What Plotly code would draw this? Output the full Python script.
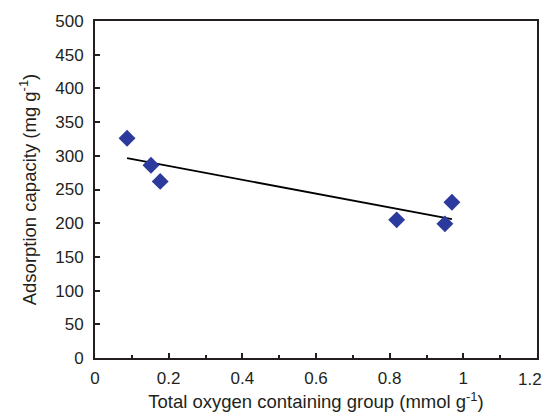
import numpy as np
import plotly.graph_objects as go

oxygen_groups = [0.087, 0.152, 0.177, 0.819, 0.950, 0.969]
adsorption_capacity = [326, 286, 262, 205, 199, 231]
x_ticks = [0, 0.2, 0.4, 0.6, 0.8, 1, 1.2]
x_tick_labels = ["0", "0.2", "0.4", "0.6", "0.8", "1", "1.2"]

slope, intercept = np.polyfit(oxygen_groups, adsorption_capacity, 1)
x_fit = [min(oxygen_groups), max(oxygen_groups)]
y_fit = [slope * v + intercept for v in x_fit]

fig = go.Figure()
fig.add_trace(go.Scatter(x=x_fit, y=y_fit, mode="lines",
                         line=dict(color="black", width=1.8), showlegend=False))
fig.add_trace(go.Scatter(x=oxygen_groups, y=adsorption_capacity, mode="markers",
                         marker=dict(symbol="diamond", size=13, color="#2B3A9C"),
                         showlegend=False))

FAM = "Liberation Sans, Arial, sans-serif"
INK = "#231F20"
tick_font = dict(family=FAM, size=17, color=INK)
title_font = dict(family=FAM, size=18.5, color=INK)

# last tick label drawn as an annotation, nudged left so it stays inside the page
shown_labels = x_tick_labels[:-1] + [""]
fig.add_annotation(x=x_ticks[-1], y=0, xref="x", yref="paper", text=x_tick_labels[-1],
                   showarrow=False, xanchor="right", yanchor="top", xshift=7, yshift=-10,
                   font=tick_font)

fig.update_layout(
    width=546, height=413,
    margin=dict(l=95, r=9, t=21, b=55),
    plot_bgcolor="white", paper_bgcolor="white",
    font=tick_font,
    xaxis=dict(range=[0, 1.2], tickvals=x_ticks, ticktext=shown_labels,
               tickfont=tick_font,
               ticks="inside", ticklen=5, tickwidth=2, tickcolor=INK,
               minor=dict(dtick=0.1, tick0=0, ticks="inside", ticklen=3, tickwidth=2, tickcolor=INK),
               showline=True, linewidth=2, linecolor=INK, mirror=True,
               showgrid=False, zeroline=False, ticklabelstandoff=4, automargin=False,
               title=dict(text="Total oxygen containing group (mmol g<sup>-1</sup>)",
                          font=title_font, standoff=8)),
    yaxis=dict(range=[0, 500], dtick=50, tickfont=tick_font,
               ticks="inside", ticklen=5, tickwidth=2, tickcolor=INK,
               showline=True, linewidth=2, linecolor=INK, mirror=True,
               showgrid=False, zeroline=False, ticklabelstandoff=6, automargin=False,
               title=dict(text="Adsorption capacity (mg g<sup>-1</sup>)",
                          font=title_font, standoff=14)),
)
fig.write_html("out.html")
